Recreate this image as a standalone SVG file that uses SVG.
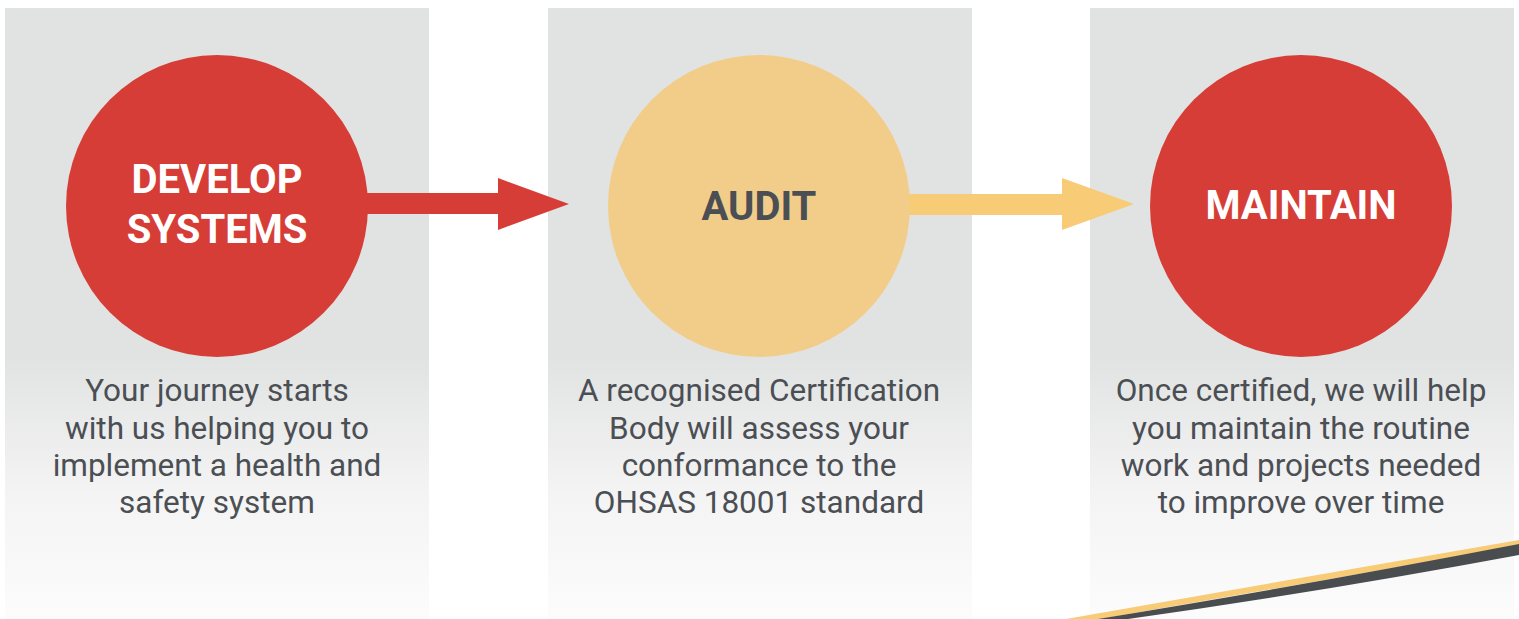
<svg xmlns="http://www.w3.org/2000/svg" width="1519" height="619" viewBox="0 0 1519 619">
<defs>
<linearGradient id="pg" gradientUnits="userSpaceOnUse" x1="0" y1="8" x2="0" y2="619">
<stop offset="0" stop-color="#e1e3e2"/>
<stop offset="0.57" stop-color="#e1e3e2"/>
<stop offset="0.8" stop-color="#f4f4f4"/>
<stop offset="1" stop-color="#fcfcfc"/>
</linearGradient>
<style>
.panel{fill:url(#pg)}
.title{font-family:Roboto,"Liberation Sans",sans-serif;font-weight:bold;font-size:40px;text-anchor:middle}
.desc{font-family:Roboto,"Liberation Sans",sans-serif;font-size:31.5px;fill:#4b4f54;text-anchor:middle}
</style>
</defs>
<rect width="1519" height="619" fill="#ffffff"/>
<rect class="panel" x="5" y="8" width="424" height="611"/>
<rect class="panel" x="548" y="8" width="424" height="611"/>
<rect class="panel" x="1090" y="8" width="424" height="611"/>
<g id="connectors">
<polygon points="360,193 498,193 498,178 569,204 498,230 498,214 360,214" fill="#d63d37"/>
<polygon points="894,194 1062,194 1062,178 1134,204 1062,230 1062,215 894,215" fill="#f8cb77"/>
</g>
<g id="develop">
<circle cx="217" cy="206" r="151" fill="#d63d37"/>
<text class="title" fill="#ffffff" x="217" y="193">DEVELOP</text>
<text class="title" fill="#ffffff" x="217" y="243">SYSTEMS</text>
<text class="desc" x="217" y="401">Your journey starts</text>
<text class="desc" x="217" y="439">with us helping you to</text>
<text class="desc" x="217" y="476">implement a health and</text>
<text class="desc" x="217" y="513">safety system</text>
</g>
<g id="audit">
<circle cx="759" cy="206" r="151" fill="#f2cd8a"/>
<text class="title" fill="#4b4f54" x="759" y="220">AUDIT</text>
<text class="desc" x="759" y="401">A recognised Certification</text>
<text class="desc" x="759" y="439">Body will assess your</text>
<text class="desc" x="759" y="476">conformance to the</text>
<text class="desc" x="759" y="513">OHSAS 18001 standard</text>
</g>
<g id="maintain">
<circle cx="1301" cy="206" r="151" fill="#d63d37"/>
<text class="title" fill="#ffffff" x="1301" y="219">MAINTAIN</text>
<text class="desc" x="1301" y="401">Once certified, we will help</text>
<text class="desc" x="1301" y="439">you maintain the routine</text>
<text class="desc" x="1301" y="476">work and projects needed</text>
<text class="desc" x="1301" y="513">to improve over time</text>
</g>
<polygon points="1066,619 1300,578 1519,540 1519,546 1100,619" fill="#f8cb77"/>
<path d="M1098,619 Q1300,586 1519,544 L1519,555 Q1320,592 1128,619 Z" fill="#4a4d50"/>
</svg>
